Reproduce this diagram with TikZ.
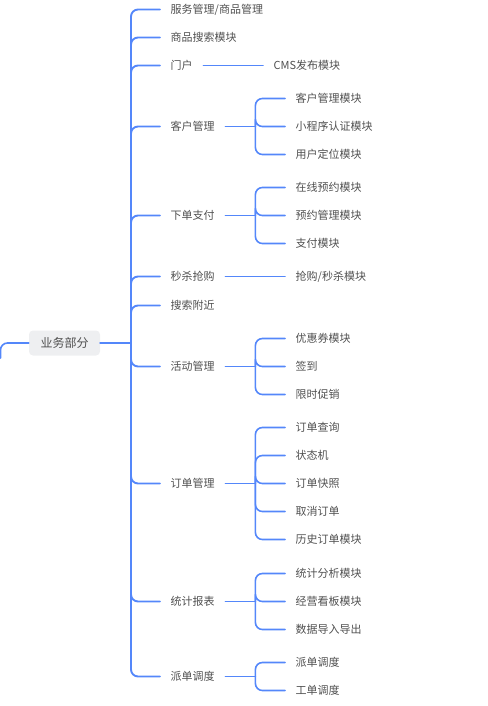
\documentclass[tikz,border=0pt]{standalone}
\usepackage{fontspec}
\setmainfont{Noto Sans CJK SC}
\definecolor{linkblue}{HTML}{5487FA}
\definecolor{txtgray}{HTML}{505050}
\definecolor{rootgray}{HTML}{EEEFF1}
\begin{document}
\begin{tikzpicture}[x=1pt, y=-1pt, font=\fontsize{11}{13}\selectfont, line join=round, line cap=round,
    item/.style={anchor=west, text=txtgray, inner xsep=10.5pt, inner ysep=2pt, yshift=-0.5pt},
    link/.style={draw=linkblue, line width=1.6pt, rounded corners=7pt}]
    \useasboundingbox (0,0) rectangle (487,706);
    \node[fill=rootgray, rounded corners=4pt, text=txtgray, font=\fontsize{12}{14}\selectfont,
          minimum width=71pt, minimum height=25pt] (root) at (64.5,343) {业务部分};
    \coordinate (up) at (0.5,358);
    \draw[link] (up) |- (root.west);
    \coordinate (rj) at (131,343);
    \draw[link, line width=1.9pt] (root.east) -- (rj);
    % first level
    \foreach \y/\n/\t in {9/fw/{服务管理/商品管理}, 37/ss/商品搜索模块, 65/mh/门户, 126/kh/客户管理,
        215/xd/下单支付, 276/ms/秒杀抢购, 305/fj/搜索附近, 366/hd/活动管理, 483/dd/订单管理,
        601/tj/统计报表, 676/pd/派单调度}
        {\node[item] (\n) at (160,\y) {\t};
         \draw[link, line width=1.9pt] (rj) |- (\n.west);}
    % single children
    \node[item] (cms) at (263,65) {CMS发布模块};
    \draw[link] (mh) -- (cms);
    \node[item] (qg) at (285,276) {抢购/秒杀模块};
    \draw[link] (ms) -- (qg);
    % second level groups
    \foreach \p/\py/\kids in {kh/126/{98/客户管理模块,126/小程序认证模块,154/用户定位模块},
        xd/215/{187/在线预约模块,215/预约管理模块,243/支付模块},
        hd/366/{338/优惠券模块,366/签到,394/限时促销},
        dd/483/{427/订单查询,455/状态机,483/订单快照,511/取消订单,539/历史订单模块},
        tj/601/{573/统计分析模块,601/经营看板模块,629/数据导入导出},
        pd/676/{662/派单调度,690/工单调度}}
        {\draw[link] (\p.east) -- ++(30,0) coordinate (\p j);
         \foreach \y/\t [count=\i] in \kids
            {\node[item] (\p\i) at (285,\y) {\t};
             \draw[link] (\p j) |- (\p\i.west);}}
\end{tikzpicture}
\end{document}
